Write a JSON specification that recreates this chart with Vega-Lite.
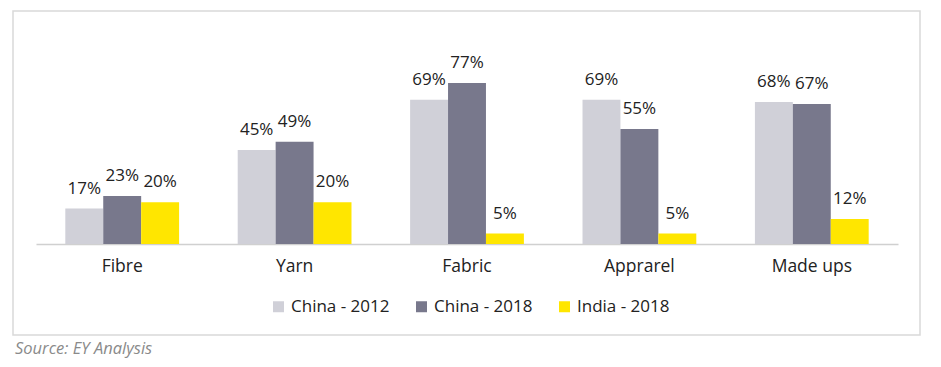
{
  "$schema": "https://vega.github.io/schema/vega-lite/v6.json",
  "width": 907,
  "height": 324,
  "padding": {"left": 13, "top": 11, "right": 21, "bottom": 5},
  "autosize": {"type": "pad"},
  "background": "white",
  "config": {"view": {"stroke": "#d9d9d9", "strokeWidth": 1.5}, "font": "Open Sans"},
  "title": {"text": "Source: EY Analysis", "orient": "bottom", "anchor": "start", "fontSize": 16.5, "fontStyle": "italic", "fontWeight": "normal", "color": "#8a8a8a", "offset": 6, "frame": "group", "dx": 2},
  "data": {"values": [
    {"category": "Fibre", "series": "China - 2012", "value": 17, "label": "17%"},
    {"category": "Fibre", "series": "China - 2018", "value": 23, "label": "23%"},
    {"category": "Fibre", "series": "India - 2018", "value": 20, "label": "20%"},
    {"category": "Yarn", "series": "China - 2012", "value": 45, "label": "45%"},
    {"category": "Yarn", "series": "China - 2018", "value": 49, "label": "49%"},
    {"category": "Yarn", "series": "India - 2018", "value": 20, "label": "20%"},
    {"category": "Fabric", "series": "China - 2012", "value": 69, "label": "69%"},
    {"category": "Fabric", "series": "China - 2018", "value": 77, "label": "77%"},
    {"category": "Fabric", "series": "India - 2018", "value": 5, "label": "5%"},
    {"category": "Apprarel", "series": "China - 2012", "value": 69, "label": "69%"},
    {"category": "Apprarel", "series": "China - 2018", "value": 55, "label": "55%"},
    {"category": "Apprarel", "series": "India - 2018", "value": 5, "label": "5%"},
    {"category": "Made ups", "series": "China - 2012", "value": 68, "label": "68%"},
    {"category": "Made ups", "series": "China - 2018", "value": 67, "label": "67%"},
    {"category": "Made ups", "series": "India - 2018", "value": 12, "label": "12%"}
  ]},
  "encoding": {
    "x": {
      "field": "category", "type": "nominal",
      "sort": ["Fibre", "Yarn", "Fabric", "Apprarel", "Made ups"],
      "scale": {"range": [23, 885], "paddingInner": 0.34, "paddingOuter": 0.17},
      "axis": {"title": null, "offset": -91, "ticks": false, "labelPadding": 13, "labelFontSize": 17.5, "labelColor": "#222222", "domainColor": "#d0d0d0", "domainWidth": 1.5, "labelAngle": 0}
    },
    "xOffset": {"field": "series", "type": "nominal", "sort": ["China - 2012", "China - 2018", "India - 2018"], "scale": {"paddingInner": 0, "paddingOuter": 0}},
    "y": {"field": "value", "type": "quantitative", "scale": {"domain": [-43.5, 111.5], "nice": false, "zero": false}, "axis": null}
  },
  "layer": [
    {
      "mark": {"type": "bar"},
      "encoding": {
        "y2": {"datum": 0},
        "color": {
          "field": "series", "type": "nominal",
          "scale": {"domain": ["China - 2012", "China - 2018", "India - 2018"], "range": ["#d0d0d8", "#78788c", "#ffe600"]},
          "legend": {"orient": "none", "legendX": 257, "legendY": 287, "direction": "horizontal", "title": null, "symbolType": "square", "symbolSize": 121, "symbolStrokeWidth": 0, "symbolOpacity": 1, "labelFontSize": 17, "labelColor": "#222222", "columnPadding": 23, "labelOffset": 4}
        }
      }
    },
    {
      "mark": {"type": "text", "baseline": "bottom", "dy": -11, "fontSize": 17, "color": "#222222"},
      "encoding": {"text": {"field": "label"}}
    }
  ]
}
